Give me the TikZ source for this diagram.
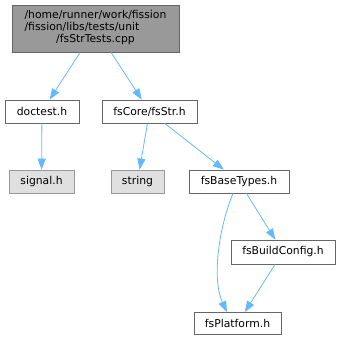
\documentclass[tikz,border=0pt]{standalone}
\usepackage{fontspec}
\setmainfont{DejaVu Sans}
\usepackage{xcolor}
\usetikzlibrary{arrows.meta}

\definecolor{edgeblue}{RGB}{99,184,255}
\definecolor{rootgray}{RGB}{153,153,153}
\definecolor{sysgray}{RGB}{224,224,224}
\definecolor{rimdark}{RGB}{102,102,102}
\definecolor{rimlight}{RGB}{153,153,153}

\tikzset{
    hdr/.style={draw=rimdark, fill=white, line width=0.8pt, inner sep=0pt,
        minimum height=23, font=\fontsize{10.8}{12}\selectfont},
    rootbox/.style={hdr, fill=rootgray},
    sysbox/.style={hdr, draw=rimlight, fill=sysgray},
    dep/.style={-{Triangle[length=11pt, width=8pt]}, draw=edgeblue, line width=0.8pt}
}

\begin{document}
\begin{tikzpicture}[x=1pt, y=-1pt]
    \useasboundingbox (0,0) rectangle (341,340);

    % 1. Tệp gốc
    \node[rootbox, minimum width=167, minimum height=47] (root) at (95.5,28.5)
        {\begin{tabular}{@{}l@{}}/home/runner/work/fission\\/fission/libs/tests/unit\\
        \multicolumn{1}{@{}c@{}}{/fsStrTests.cpp}\end{tabular}};

    % 2. Các tệp được include
    \node[hdr, minimum width=74] (doctest) at (42,111.5) {doctest.h};
    \node[hdr, minimum width=95] (fsstr) at (149.5,111.5) {fsCore/fsStr.h};
    \node[sysbox, minimum width=65] (signal) at (41.5,181.5) {signal.h};
    \node[sysbox, minimum width=53] (string) at (137.5,181.5) {string};
    \node[hdr, minimum width=100] (types) at (239,181.5) {fsBaseTypes.h};
    \node[hdr, minimum width=104, minimum height=24] (build) at (283,252) {fsBuildConfig.h};
    \node[hdr, minimum width=87, minimum height=22] (plat) at (237.5,323.5) {fsPlatform.h};

    % 3. Các mũi tên phụ thuộc
    \draw[dep] (root) -- (doctest);
    \draw[dep] (root) -- (fsstr);
    \draw[dep] (doctest) -- (signal);
    \draw[dep] (fsstr) -- (string);
    \draw[dep] (fsstr) -- (types);
    \draw[dep] (types) -- (build);
    \draw[dep] (build) -- (plat);
    % Đường cong từ fsBaseTypes.h xuống fsPlatform.h
    \draw[dep] ([xshift=-6pt]types.south) .. controls (218,230) and (212,280) .. ([xshift=-10.5pt]plat.north);

\end{tikzpicture}
\end{document}
